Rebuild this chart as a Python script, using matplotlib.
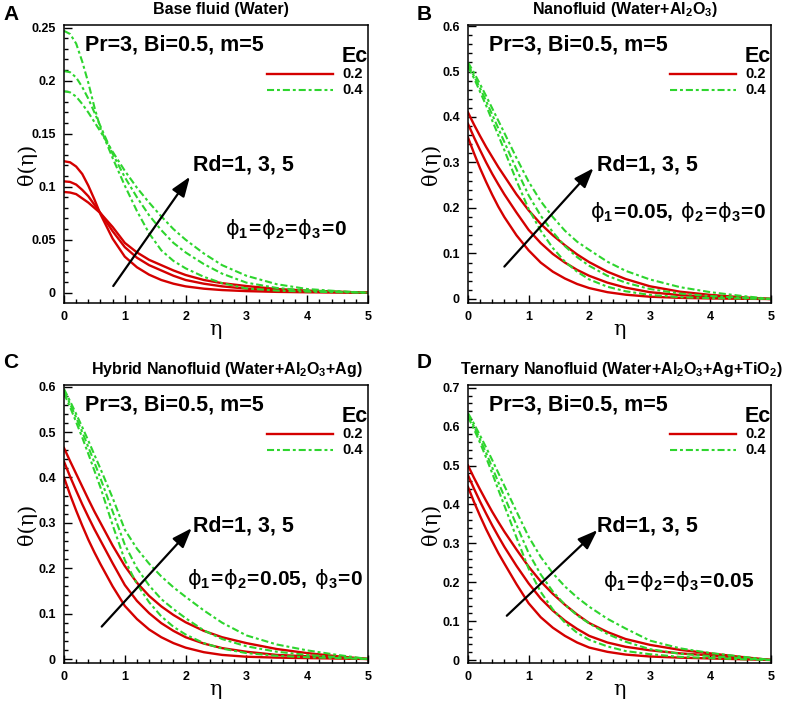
import matplotlib
matplotlib.use('Agg')
import matplotlib.pyplot as plt
from matplotlib.ticker import MultipleLocator, FuncFormatter

plt.rcParams['font.family'] = ['Liberation Sans', 'DejaVu Sans']
plt.rcParams['font.weight'] = 'bold'
plt.rcParams['mathtext.fontset'] = 'custom'
plt.rcParams['mathtext.rm'] = 'DejaVu Sans:weight=normal'
plt.rcParams['mathtext.bf'] = 'Liberation Sans:bold'
plt.rcParams['mathtext.it'] = 'DejaVu Sans:italic'

eta = [0, 0.1, 0.2, 0.3, 0.4, 0.5, 0.6, 0.8, 1.0, 1.2, 1.4, 1.6, 1.8, 2.0, 2.3, 2.6, 3.0, 3.5, 4.0, 4.5, 5.0]

# (A) base fluid, Ec=0.2 (red) and Ec=0.4 (green), Rd=1,3,5
a_red_rd1 = [0.124, 0.123, 0.119, 0.112, 0.101, 0.088, 0.074, 0.051, 0.034, 0.024, 0.017, 0.012, 0.0085, 0.006, 0.0038, 0.0025, 0.0015, 0.0008, 0.0004, 0.0002, 0]
a_red_rd3 = [0.105, 0.1045, 0.102, 0.097, 0.091, 0.083, 0.075, 0.058, 0.043, 0.033, 0.026, 0.021, 0.016, 0.012, 0.0085, 0.006, 0.0038, 0.002, 0.001, 0.0005, 0]
a_red_rd5 = [0.095, 0.0945, 0.093, 0.089, 0.085, 0.080, 0.075, 0.062, 0.047, 0.038, 0.031, 0.026, 0.021, 0.0167, 0.012, 0.009, 0.0063, 0.0035, 0.002, 0.001, 0]
a_grn_rd1 = [0.247, 0.244, 0.235, 0.218, 0.198, 0.175, 0.155, 0.127, 0.101, 0.077, 0.056, 0.040, 0.030, 0.023, 0.015, 0.009, 0.004, 0.002, 0.001, 0.0005, 0]
a_grn_rd3 = [0.209, 0.208, 0.203, 0.194, 0.183, 0.170, 0.157, 0.131, 0.109, 0.090, 0.073, 0.059, 0.047, 0.038, 0.027, 0.018, 0.0095, 0.0045, 0.002, 0.001, 0]
a_grn_rd5 = [0.190, 0.189, 0.185, 0.178, 0.170, 0.161, 0.152, 0.133, 0.115, 0.099, 0.085, 0.072, 0.060, 0.050, 0.037, 0.026, 0.016, 0.008, 0.0035, 0.0015, 0]

# (B) nanofluid
b_red_rd1 = [0.355, 0.32, 0.287, 0.257, 0.229, 0.203, 0.180, 0.140, 0.107, 0.080, 0.060, 0.045, 0.033, 0.024, 0.015, 0.0095, 0.005, 0.0025, 0.0012, 0.0005, 0]
b_red_rd3 = [0.385, 0.355, 0.327, 0.300, 0.275, 0.252, 0.230, 0.190, 0.152, 0.123, 0.099, 0.080, 0.064, 0.051, 0.036, 0.025, 0.015, 0.0085, 0.0048, 0.002, 0]
b_red_rd5 = [0.41, 0.383, 0.358, 0.334, 0.312, 0.290, 0.270, 0.230, 0.195, 0.165, 0.140, 0.118, 0.098, 0.081, 0.060, 0.044, 0.028, 0.016, 0.009, 0.004, 0]
b_grn_rd1 = [0.51, 0.485, 0.455, 0.425, 0.392, 0.360, 0.327, 0.260, 0.198, 0.150, 0.112, 0.082, 0.060, 0.043, 0.027, 0.017, 0.009, 0.004, 0.002, 0.001, 0]
b_grn_rd3 = [0.515, 0.49, 0.463, 0.435, 0.405, 0.375, 0.345, 0.285, 0.228, 0.183, 0.147, 0.116, 0.092, 0.073, 0.051, 0.036, 0.022, 0.012, 0.0065, 0.003, 0]
b_grn_rd5 = [0.52, 0.497, 0.472, 0.446, 0.419, 0.392, 0.365, 0.310, 0.258, 0.215, 0.180, 0.150, 0.126, 0.108, 0.082, 0.062, 0.043, 0.026, 0.015, 0.007, 0]

# (C) hybrid nanofluid
c_red_rd1 = [0.40, 0.362, 0.327, 0.294, 0.263, 0.235, 0.209, 0.160, 0.117, 0.088, 0.065, 0.048, 0.035, 0.025, 0.015, 0.009, 0.005, 0.003, 0.002, 0.001, 0]
c_red_rd3 = [0.435, 0.402, 0.371, 0.341, 0.313, 0.286, 0.261, 0.211, 0.163, 0.128, 0.101, 0.079, 0.062, 0.048, 0.034, 0.024, 0.016, 0.009, 0.006, 0.003, 0]
c_red_rd5 = [0.465, 0.436, 0.408, 0.380, 0.352, 0.325, 0.300, 0.250, 0.205, 0.168, 0.139, 0.116, 0.097, 0.081, 0.062, 0.048, 0.035, 0.022, 0.013, 0.006, 0]
c_grn_rd1 = [0.585, 0.555, 0.522, 0.488, 0.452, 0.415, 0.378, 0.295, 0.218, 0.165, 0.125, 0.094, 0.071, 0.054, 0.035, 0.023, 0.013, 0.007, 0.004, 0.002, 0]
c_grn_rd3 = [0.59, 0.562, 0.532, 0.500, 0.467, 0.433, 0.398, 0.325, 0.252, 0.200, 0.162, 0.132, 0.110, 0.090, 0.063, 0.044, 0.028, 0.016, 0.009, 0.004, 0]
c_grn_rd5 = [0.595, 0.568, 0.540, 0.511, 0.481, 0.450, 0.419, 0.355, 0.285, 0.243, 0.210, 0.182, 0.158, 0.137, 0.107, 0.080, 0.052, 0.032, 0.019, 0.009, 0]

# (D) ternary nanofluid
d_red_rd1 = [0.445, 0.406, 0.370, 0.336, 0.305, 0.275, 0.248, 0.195, 0.146, 0.110, 0.083, 0.062, 0.045, 0.032, 0.021, 0.014, 0.009, 0.006, 0.004, 0.002, 0]
d_red_rd3 = [0.475, 0.440, 0.407, 0.376, 0.346, 0.318, 0.291, 0.242, 0.197, 0.158, 0.127, 0.101, 0.080, 0.062, 0.045, 0.034, 0.025, 0.017, 0.012, 0.006, 0]
d_red_rd5 = [0.50, 0.468, 0.438, 0.409, 0.381, 0.355, 0.330, 0.284, 0.240, 0.202, 0.170, 0.142, 0.117, 0.095, 0.072, 0.054, 0.039, 0.026, 0.017, 0.008, 0]
d_grn_rd1 = [0.625, 0.593, 0.558, 0.520, 0.480, 0.438, 0.397, 0.315, 0.235, 0.175, 0.130, 0.096, 0.070, 0.052, 0.035, 0.023, 0.015, 0.008, 0.005, 0.002, 0]
d_grn_rd3 = [0.63, 0.600, 0.567, 0.532, 0.495, 0.457, 0.420, 0.347, 0.275, 0.220, 0.176, 0.142, 0.115, 0.094, 0.067, 0.047, 0.028, 0.016, 0.010, 0.005, 0]
d_grn_rd5 = [0.635, 0.607, 0.577, 0.546, 0.514, 0.481, 0.448, 0.382, 0.317, 0.265, 0.223, 0.189, 0.161, 0.137, 0.106, 0.081, 0.050, 0.030, 0.018, 0.009, 0]

letters = ['A', 'B', 'C', 'D']
titles = ['Base fluid (Water)',
          r'Nanofluid (Water+Al$_\mathbf{2}$O$_\mathbf{3}$)',
          r'Hybrid Nanofluid (Water+Al$_\mathbf{2}$O$_\mathbf{3}$+Ag)',
          r'Ternary Nanofluid (Water+Al$_\mathbf{2}$O$_\mathbf{3}$+Ag+TiO$_\mathbf{2}$)']
EQ = r'\!\mathbf{=}\!'
PHI = r'\mathrm{\phi}'
phi_texts = ['$' + PHI + r'_\mathbf{1}' + EQ + PHI + r'_\mathbf{2}' + EQ + PHI + r'_\mathbf{3}' + EQ + r'\mathbf{0}$',
             '$' + PHI + r'_\mathbf{1}' + EQ + r'\mathbf{0.05,}\,' + PHI + r'_\mathbf{2}' + EQ + PHI + r'_\mathbf{3}' + EQ + r'\mathbf{0}$',
             '$' + PHI + r'_\mathbf{1}' + EQ + PHI + r'_\mathbf{2}' + EQ + r'\mathbf{0.05,}\,' + PHI + r'_\mathbf{3}' + EQ + r'\mathbf{0}$',
             '$' + PHI + r'_\mathbf{1}' + EQ + PHI + r'_\mathbf{2}' + EQ + PHI + r'_\mathbf{3}' + EQ + r'\mathbf{0.05}$']
ec_values = ['0.2', '0.4']

red_sets = [[a_red_rd1, a_red_rd3, a_red_rd5], [b_red_rd1, b_red_rd3, b_red_rd5],
            [c_red_rd1, c_red_rd3, c_red_rd5], [d_red_rd1, d_red_rd3, d_red_rd5]]
grn_sets = [[a_grn_rd1, a_grn_rd3, a_grn_rd5], [b_grn_rd1, b_grn_rd3, b_grn_rd5],
            [c_grn_rd1, c_grn_rd3, c_grn_rd5], [d_grn_rd1, d_grn_rd3, d_grn_rd5]]

# layout, in pixels of the 796x703 figure
W, H = 796, 703
boxes = [(64, 25, 368, 303), (468, 25, 771, 303), (64, 385, 368, 663), (468, 385, 771, 663)]
ylims = [(-0.0097, 0.2525), (-0.0088, 0.6022), (-0.0088, 0.6037), (-0.0077, 0.707)]
ymajor = [0.05, 0.1, 0.1, 0.1]
yminor = [0.01, 0.02, 0.02, 0.02]
title_x = [0.516, 0.518, 0.536, 0.505]
arrows = [((0.162, 0.061), (0.414, 0.454)), ((0.12, 0.131), (0.414, 0.485)),
          ((0.124, 0.131), (0.42, 0.485)), ((0.128, 0.170), (0.427, 0.478))]
rd_pos = [(0.425, 0.478), (0.425, 0.478), (0.425, 0.472), (0.425, 0.472)]
phi_pos = [(0.53, 0.245), (0.403, 0.305), (0.404, 0.281), (0.447, 0.272)]
letter_x = [3, 417, 3, 417]
letter_y = [14, 14, 363, 363]

RED = '#d40000'
GREEN = '#2ed52e'
green_ls = (0, (3.4, 1.4, 1.4, 1.4))

fig = plt.figure(figsize=(W / 100, H / 100), dpi=100)
fmt = FuncFormatter(lambda v, p: '%g' % round(v, 3))

for i in range(4):
    x0, y0, x1, y1 = boxes[i]
    ax = fig.add_axes([x0 / W, 1 - y1 / H, (x1 - x0) / W, (y1 - y0) / H])

    for ys in red_sets[i]:
        ax.plot(eta, ys, color=RED, lw=1.7)
    for ys in grn_sets[i]:
        ax.plot(eta, ys, color=GREEN, lw=1.5, linestyle=green_ls)

    ax.set_xlim(0, 5)
    ax.set_ylim(*ylims[i])
    ax.xaxis.set_major_locator(MultipleLocator(1))
    ax.xaxis.set_minor_locator(MultipleLocator(0.2))
    ax.yaxis.set_major_locator(MultipleLocator(ymajor[i]))
    ax.yaxis.set_minor_locator(MultipleLocator(yminor[i]))
    ax.xaxis.set_major_formatter(fmt)
    ax.yaxis.set_major_formatter(fmt)
    ax.tick_params(which='both', direction='in', top=False, right=False, labelsize=9, width=1)
    ax.tick_params(which='major', length=6, pad=6)
    ax.tick_params(which='minor', length=3)
    for lab in ax.get_xticklabels() + ax.get_yticklabels():
        lab.set_fontweight('bold')
    for s in ax.spines.values():
        s.set_linewidth(1.1)

    ax.text(-0.122, 0.5, 'θ(η)', rotation=90, ha='center', va='center',
            transform=ax.transAxes, fontsize=15, family='DejaVu Serif', fontweight='normal')
    ax.text(0.5, -0.097, 'η', ha='center', va='center', transform=ax.transAxes,
            fontsize=15, family='DejaVu Serif', fontweight='normal')

    ax.text(title_x[i], 1.057, titles[i], ha='center', va='center', transform=ax.transAxes,
            fontsize=11.5, fontweight='bold')
    fig.text(letter_x[i] / W, 1 - letter_y[i] / H, letters[i], ha='left', va='center',
             fontsize=15, fontweight='bold')

    ax.text(0.068, 0.908, 'Pr=3, Bi=0.5, m=5', transform=ax.transAxes, ha='left',
            va='baseline', fontsize=15.5, fontweight='bold')

    # legend drawn by hand, Tecplot style
    ax.text(0.998, 0.868, 'Ec', transform=ax.transAxes, ha='right', va='baseline',
            fontsize=15.5, fontweight='bold')
    ax.plot([0.668, 0.885], [0.825, 0.825], transform=ax.transAxes, color=RED, lw=1.7,
            clip_on=False)
    ax.plot([0.668, 0.885], [0.765, 0.765], transform=ax.transAxes, color=GREEN, lw=1.5,
            linestyle=green_ls, clip_on=False)
    ax.text(0.915, 0.825, ec_values[0], transform=ax.transAxes, ha='left', va='center',
            fontsize=10.5, fontweight='bold')
    ax.text(0.915, 0.765, ec_values[1], transform=ax.transAxes, ha='left', va='center',
            fontsize=10.5, fontweight='bold')

    start, tip = arrows[i]
    ax.annotate('', xy=tip, xytext=start, xycoords='axes fraction', textcoords='axes fraction',
                arrowprops=dict(arrowstyle='-|>,head_length=0.6,head_width=0.22', lw=1.6,
                                color='black', mutation_scale=20, shrinkA=0, shrinkB=0))
    ax.text(rd_pos[i][0], rd_pos[i][1], 'Rd=1, 3, 5', transform=ax.transAxes, ha='left',
            va='baseline', fontsize=15.5, fontweight='bold')
    ax.text(phi_pos[i][0], phi_pos[i][1], phi_texts[i], transform=ax.transAxes, ha='left',
            va='baseline', fontsize=15)

fig.savefig('out.png', dpi=100)
